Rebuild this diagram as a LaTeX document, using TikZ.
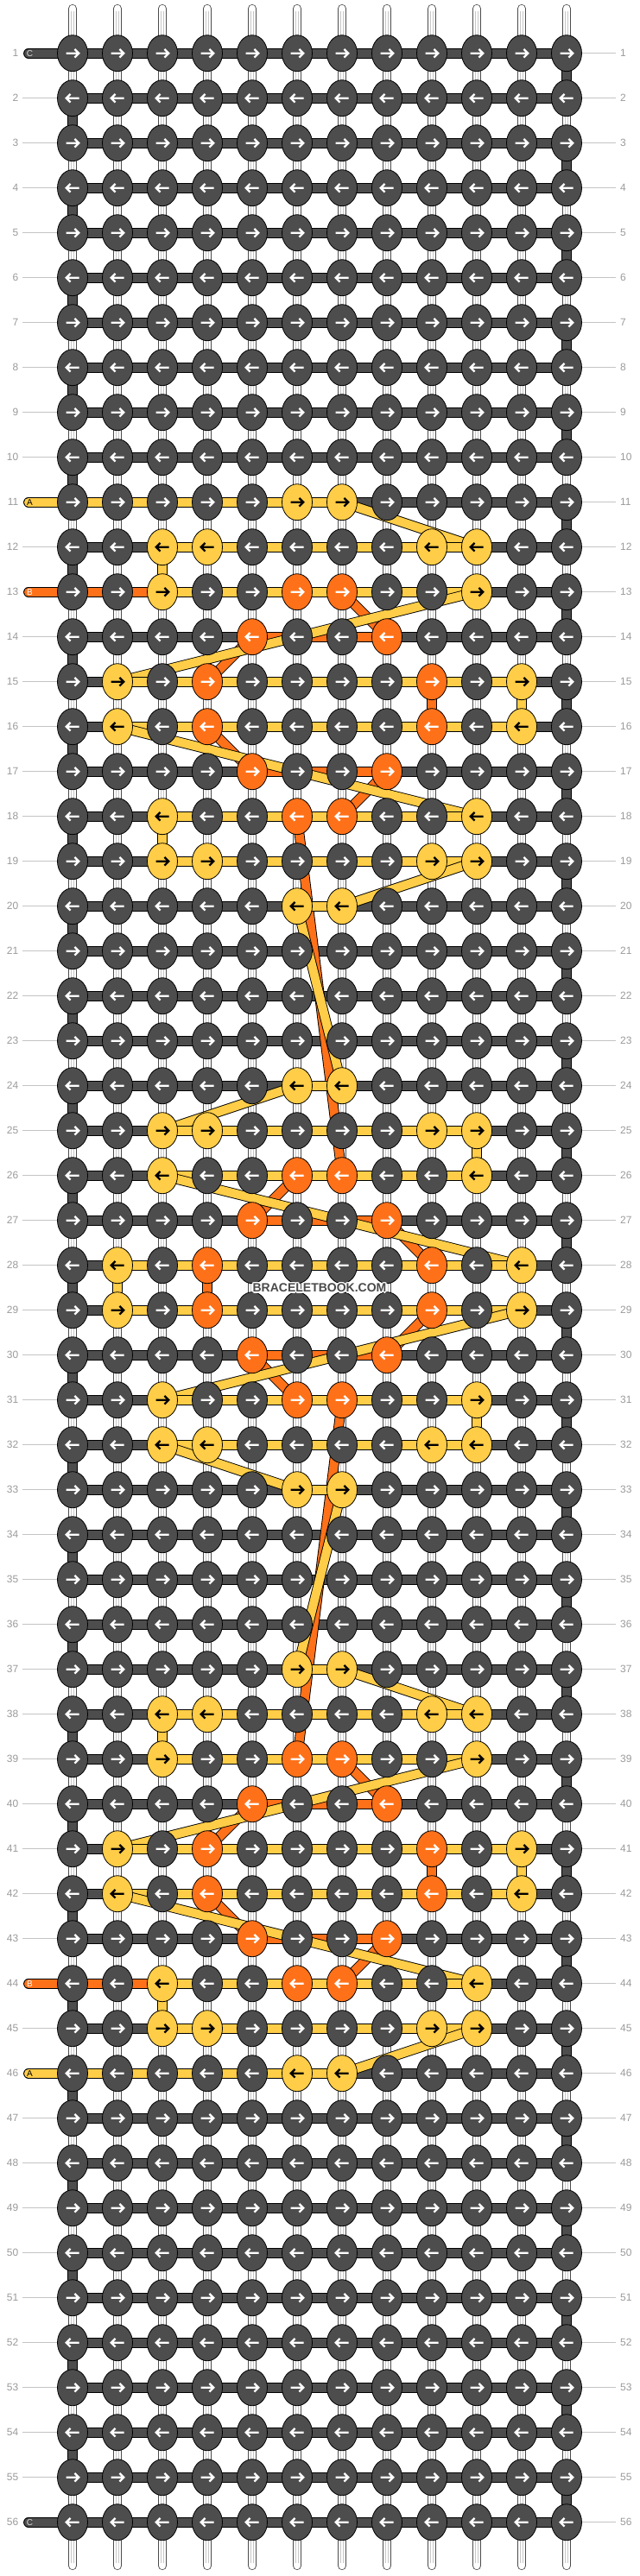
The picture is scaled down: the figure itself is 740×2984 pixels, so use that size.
\documentclass[tikz,border=0pt]{standalone}
\usepackage{fontspec}
\setmainfont{Liberation Sans}
\usetikzlibrary{shapes.geometric}
\definecolor{cD}{HTML}{4D4D4D}
\definecolor{cY}{HTML}{FFCD47}
\definecolor{cO}{HTML}{FF7119}
\definecolor{lbl}{HTML}{9A9A9A}
\definecolor{lline}{HTML}{C4C4C4}
\definecolor{wm}{HTML}{4A4A4A}
\pgfdeclarelayer{warp}
\pgfdeclarelayer{lc}
\pgfdeclarelayer{lb}
\pgfdeclarelayer{la}
\pgfsetlayers{warp,lc,lb,la,main}
\newcommand\setY[2]{\foreach \k in {#2}{\expandafter\xdef\csname kc#1-\k\endcsname{cY}\expandafter\xdef\csname ka#1-\k\endcsname{black}}}
\newcommand\setO[2]{\foreach \k in {#2}{\expandafter\xdef\csname kc#1-\k\endcsname{cO}}}
\begin{document}
\begin{tikzpicture}[x=1pt,y=-1pt,
  knot/.style={ellipse, draw=black, line width=0.8pt, minimum width=35pt, minimum height=42pt, inner sep=0pt},
  band/.style={draw=black, line width=0.9pt, double=#1, double distance=10pt},
  warpband/.style={draw=black!70, line width=0.8pt, double=white, double distance=8.6pt, line cap=round},
  warpmid/.style={draw=black!22, line width=0.5pt, double=white, double distance=2.6pt},
  arr/.style={line width=2.3pt},
  lbl/.style={text=lbl, font=\fontsize{12}{14}\selectfont, inner sep=0pt},
  lline/.style={draw=lline, line width=0.9pt},
  stubtxt/.style={font=\fontsize{10}{12}\selectfont, inner sep=0pt}
]
\useasboundingbox (0,0) rectangle (740,2984);
% knot colours
\setY{11}{6,7}\setY{12}{3,4,9,10}\setY{13}{3,10}\setY{15}{2,11}\setY{16}{2,11}
\setY{18}{3,10}\setY{19}{3,4,9,10}\setY{20}{6,7}\setY{24}{6,7}\setY{25}{3,4,9,10}
\setY{26}{3,10}\setY{28}{2,11}\setY{29}{2,11}\setY{31}{3,10}\setY{32}{3,4,9,10}
\setY{33}{6,7}\setY{37}{6,7}\setY{38}{3,4,9,10}\setY{39}{3,10}\setY{41}{2,11}
\setY{42}{2,11}\setY{44}{3,10}\setY{45}{3,4,9,10}\setY{46}{6,7}
\setO{13}{6,7}\setO{14}{5,8}\setO{15}{4,9}\setO{16}{4,9}\setO{17}{5,8}\setO{18}{6,7}
\setO{26}{6,7}\setO{27}{5,8}\setO{28}{4,9}\setO{29}{4,9}\setO{30}{5,8}\setO{31}{6,7}
\setO{39}{6,7}\setO{40}{5,8}\setO{41}{4,9}\setO{42}{4,9}\setO{43}{5,8}\setO{44}{6,7}
% knots
\foreach \r in {1,...,56}{
  \foreach \k in {1,...,12}{
    \pgfmathsetmacro\xx{84+52*(\k-1)}
    \pgfmathsetmacro\yy{61.7+52*(\r-1)}
    \ifcsname kc\r-\k\endcsname \edef\kc{\csname kc\r-\k\endcsname}\else\def\kc{cD}\fi
    \ifcsname ka\r-\k\endcsname \def\ac{black}\else\def\ac{white}\fi
    \node[knot, fill=\kc] (K\r-\k) at (\xx,\yy) {};
    \ifodd\r\relax
      \draw[arr,\ac] (\xx-7.5,\yy) -- (\xx+6.8,\yy) (\xx+2.4,\yy-4.8) -- (\xx+7.2,\yy) -- (\xx+2.4,\yy+4.8);
    \else
      \draw[arr,\ac] (\xx+7.5,\yy) -- (\xx-6.8,\yy) (\xx-2.4,\yy-4.8) -- (\xx-7.2,\yy) -- (\xx-2.4,\yy+4.8);
    \fi
  }
}
% stub coordinates
\coordinate (sC1) at (33,61.7);
\coordinate (sC56) at (33,2921.7);
\coordinate (sA11) at (33,581.7);
\coordinate (sA46) at (33,2401.7);
\coordinate (sB13) at (33,685.7);
\coordinate (sB44) at (33,2297.7);
% warp strings
\begin{pgfonlayer}{warp}
\foreach \k in {1,...,12}{
  \pgfmathsetmacro\xx{84+52*(\k-1)}
  \coordinate (wt\k) at (\xx,10);
  \coordinate (wb\k) at (\xx,2972);
  \coordinate (wmt\k) at (\xx,13);
  \coordinate (wmb\k) at (\xx,2969);
  \draw[warpband] (wt\k) -- (wb\k);
  \draw[warpmid] (wmt\k) -- (wmb\k);
}
\end{pgfonlayer}
% background string C
\begin{pgfonlayer}{lc}
\foreach \r in {1,...,56}{
  \draw[band=cD] (K\r-1.center) -- (K\r-12.center);
}
\foreach \r in {1,...,55}{
  \pgfmathtruncatemacro\rn{\r+1}
  \ifodd\r\relax
    \draw[band=cD] (K\r-12.center) -- (K\rn-12.center);
  \else
    \draw[band=cD] (K\r-1.center) -- (K\rn-1.center);
  \fi
}
\draw[band=cD, line cap=round] (sC1) -- (K1-1.center);
\draw[band=cD, line cap=round] (sC56) -- (K56-1.center);
\end{pgfonlayer}
% string B
\begin{pgfonlayer}{lb}
\draw[band=cO, line cap=round] (sB13) -- (K13-6.center);
\foreach \p/\q in {K13-6/K13-7, K13-7/K14-8, K14-8/K14-5, K14-5/K15-4, K15-4/K15-9, K15-9/K16-9, K16-9/K16-4, K16-4/K17-5, K17-5/K17-8, K17-8/K18-7, K18-7/K18-6, K18-6/K26-7, K26-7/K26-6, K26-6/K27-5, K27-5/K27-8, K27-8/K28-9, K28-9/K28-4, K28-4/K29-4, K29-4/K29-9, K29-9/K30-8, K30-8/K30-5, K30-5/K31-6, K31-6/K31-7, K31-7/K39-6, K39-6/K39-7, K39-7/K40-8, K40-8/K40-5, K40-5/K41-4, K41-4/K41-9, K41-9/K42-9, K42-9/K42-4, K42-4/K43-5, K43-5/K43-8, K43-8/K44-7, K44-7/K44-6}{
  \draw[band=cO] (\p.center) -- (\q.center);
}
\draw[band=cO, line cap=round] (sB44) -- (K44-6.center);
\end{pgfonlayer}
% string A
\begin{pgfonlayer}{la}
\draw[band=cY, line cap=round] (sA11) -- (K11-6.center);
\foreach \p/\q in {K11-6/K11-7, K11-7/K12-10, K12-10/K12-3, K12-3/K13-3, K13-3/K13-10, K13-10/K15-2, K15-2/K15-11, K15-11/K16-11, K16-11/K16-2, K16-2/K18-10, K18-10/K18-3, K18-3/K19-3, K19-3/K19-10, K19-10/K20-7, K20-7/K20-6, K20-6/K24-7, K24-7/K24-6, K24-6/K25-3, K25-3/K25-10, K25-10/K26-10, K26-10/K26-3, K26-3/K28-11, K28-11/K28-2, K28-2/K29-2, K29-2/K29-11, K29-11/K31-3, K31-3/K31-10, K31-10/K32-10, K32-10/K32-3, K32-3/K33-6, K33-6/K33-7, K33-7/K37-6, K37-6/K37-7, K37-7/K38-10, K38-10/K38-3, K38-3/K39-3, K39-3/K39-10, K39-10/K41-2, K41-2/K41-11, K41-11/K42-11, K42-11/K42-2, K42-2/K44-10, K44-10/K44-3, K44-3/K45-3, K45-3/K45-10, K45-10/K46-7, K46-7/K46-6}{
  \draw[band=cY] (\p.center) -- (\q.center);
}
\draw[band=cY, line cap=round] (sA46) -- (K46-6.center);
\end{pgfonlayer}
% stub letters
\node[stubtxt, text=black!15] (tC1) at (34.5,61.7) {C};
\node[stubtxt, text=black!15] (tC56) at (34.5,2921.7) {C};
\node[stubtxt, text=black] (tA11) at (34.5,581.7) {A};
\node[stubtxt, text=black] (tA46) at (34.5,2401.7) {A};
\node[stubtxt, text=white] (tB13) at (34.5,685.7) {B};
\node[stubtxt, text=white] (tB44) at (34.5,2297.7) {B};
% row labels
\foreach \r in {1,...,56}{
  \pgfmathsetmacro\yy{61.7+52*(\r-1)}
  \node[lbl, anchor=east] (L\r) at (21.5,\yy) {\r};
  \node[lbl, anchor=west] (R\r) at (718,\yy) {\r};
  \coordinate (re\r) at (713,\yy);
  \draw[lline] (K\r-12.east) -- (re\r);
}
\foreach \r in {2,...,10,12,14,15,...,43,45,47,48,...,55}{
  \pgfmathsetmacro\yy{61.7+52*(\r-1)}
  \coordinate (le\r) at (26,\yy);
  \draw[lline] (le\r) -- (K\r-1.west);
}
% watermark
\foreach \dx/\dy in {-1/-1,0/-1,1/-1,-1/0,1/0,-1/1,0/1,1/1,-1.5/0,1.5/0,0/-1.5,0/1.5}{
  \node[font=\bfseries\fontsize{14}{14}\selectfont, text=white, inner sep=0pt] at (370+\dx,1492+\dy) {BRACELETBOOK.COM};
}
\node[font=\bfseries\fontsize{14}{14}\selectfont, text=wm, inner sep=0pt] (wmark) at (370,1492) {BRACELETBOOK.COM};
\end{tikzpicture}
\end{document}
